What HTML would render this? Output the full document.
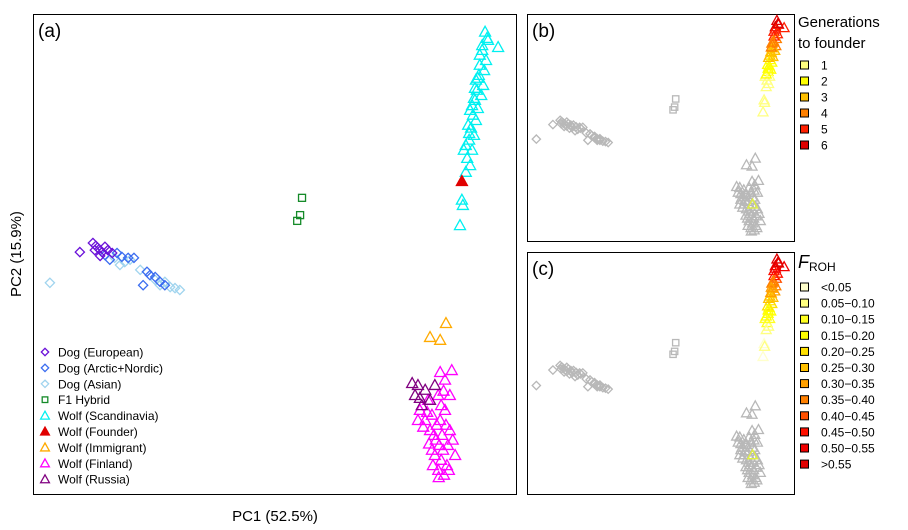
<!DOCTYPE html>
<html><head><meta charset="utf-8"><style>
html,body{margin:0;padding:0;background:#fff;}
svg{display:block;font-family:"Liberation Sans",Arial,sans-serif;}
</style></head><body>
<svg id="chart" width="908" height="530" viewBox="0 0 908 530" xmlns="http://www.w3.org/2000/svg">
<rect x="0" y="0" width="908" height="530" fill="#fff"/>
<rect x="33.5" y="14.5" width="483" height="480" fill="none" stroke="#000"/>
<rect x="527.5" y="14.5" width="267" height="227" fill="none" stroke="#000"/>
<rect x="527.5" y="252.5" width="267" height="242" fill="none" stroke="#000"/>
<text x="38" y="37" font-size="19">(a)</text>
<text x="532" y="37" font-size="19">(b)</text>
<text x="532" y="275" font-size="19">(c)</text>
<text x="275" y="521" font-size="15" text-anchor="middle">PC1 (52.5%)</text>
<text x="21" y="254" font-size="15" text-anchor="middle" transform="rotate(-90 21 254)">PC2 (15.9%)</text>
<text x="798" y="27" font-size="15">Generations</text>
<text x="798" y="48" font-size="15">to founder</text>
<text x="798" y="268" font-size="18" font-style="italic">F<tspan font-size="12" font-style="normal" dy="3">ROH</tspan></text>
<g id="marks"></g>
</svg>
<script>
const groupNames = ["Dog (European)","Dog (Arctic+Nordic)","Dog (Asian)","F1 Hybrid","Wolf (Scandinavia)","Wolf (Founder)","Wolf (Immigrant)","Wolf (Finland)","Wolf (Russia)"];
const euroX=[9.7,12.4,13.0,13.7,14.3,14.9,15.5,13.9,16.4,12.8];
const euroY=[50.4,52.3,51.7,51.0,50.4,51.5,50.8,49.6,50.2,50.8];
const arcX=[17.4,18.4,19.7,20.9,23.6,24.2,25.3,26.3,22.8,27.3,14.9,15.9];
const arcY=[50.2,49.4,49.2,49.2,46.3,45.6,45.2,44.2,43.5,43.5,49.8,48.8];
const asiaX=[3.5,18.0,19.0,16.9,25.3,26.3,28.4,29.4,30.4,27.3,20.1,22.2];
const asiaY=[44.0,47.7,48.3,49.2,44.6,43.5,43.1,42.9,42.5,44.2,48.8,46.7];
const f1X=[55.7,55.3,54.7];
const f1Y=[61.7,58.1,56.9];
const scanX=[93.6,94.2,93.0,96.3,92.5,93.8,93.4,92.3,93.2,91.9,92.8,91.5,92.1,91.1,91.7,90.7,91.3,90.3,90.9,89.9,90.5,89.2,89.6,88.8,88.4,89.0,92.5,91.7,90.9,90.1,89.6,90.5,91.3,92.1,93.0,94.0,91.5,90.3];
const scanY=[96.3,94.6,93.5,93.1,91.5,90.4,88.3,87.3,85.2,84.2,83.1,82.1,80.4,79.0,77.9,76.3,74.8,73.8,71.7,70.0,68.5,71.7,67.1,61.3,56.0,60.2,89.4,86.3,81.0,76.9,72.7,80.0,82.5,86.7,92.5,95.0,84.6,75.2];
const scanGen=[6,6,6,5,5,5,4,4,4,3,3,3,3,2,2,2,2,2,1,1,1,1,1,1,1,1,5,4,3,2,2,3,3,4,5,6,4,2];
const scanFroh=[11,11,10,10,9,9,8,7,7,6,6,5,5,4,4,3,3,3,2,2,1,2,1,0,0,1,9,7,5,4,3,5,6,7,10,11,6,3];
const founderX=[88.8], founderY=[65.2];
const immX=[85.5,82.2,84.3], immY=[35.6,32.7,32.1];
const finX=[80.1,81.2,82.6,84.3,85.3,86.3,83.9,82.2,83.4,84.7,85.9,83.2,84.5,85.7,83.9,85.1,82.6,86.3,87.4,81.8,85.3,86.7,84.3,79.7,82.8,86.1,83.6,84.9,84.1,85.5,83.0,84.5,81.6,86.9,80.8,82.0,84.0,85.0];
const finY=[17.5,15.4,16.5,15.4,17.5,20.6,20.6,13.3,11.3,12.3,10.2,8.1,7.1,6.0,5.0,4.0,9.2,13.3,8.1,19.6,23.8,25.8,25.4,15.4,6.0,5.0,14.4,9.2,10.2,14.4,12.3,18.5,17.1,11.3,14.0,10.5,3.5,21.5];
const rusX=[78.5,79.7,81.2,79.1,82.2,80.5,83.2,80.1];
const rusY=[23.1,22.7,21.7,20.6,19.6,18.5,22.7,20.0];
const genLabels=["1","2","3","4","5","6"];
const genColors=["#ffff80","#ffff00","#ffc000","#ff8000","#ff2000","#e00000"];
const frohLabels=["<0.05","0.05\u22120.10","0.10\u22120.15","0.15\u22120.20","0.20\u22120.25","0.25\u22120.30","0.30\u22120.35","0.35\u22120.40","0.40\u22120.45","0.45\u22120.50","0.50\u22120.55",">0.55"];
const frohColors=["#ffffcc","#ffff80","#ffff20","#ffff00","#ffe000","#ffc000","#ffa000","#ff8000","#ff5000","#ff1000","#f00000","#e00000"];

const NS="http://www.w3.org/2000/svg";
const G=document.getElementById('marks');
const panels={a:{x0:33,y0:14,w:483,h:480,s:1},b:{x0:527,y0:12,w:267,h:227,s:0.9},c:{x0:527,y0:250,w:267,h:242,s:0.9}};
function sx(p,v){return p.x0+v/100*p.w;}
function sy(p,v){return p.y0+p.h-v/100*p.h;}
function shape(kind,cx,cy,s,stroke,fill){
  let e;
  if(kind==='dia'){const r=4.6*s;e=document.createElementNS(NS,'polygon');e.setAttribute('points',`${cx},${cy-r} ${cx+r},${cy} ${cx},${cy+r} ${cx-r},${cy}`);}
  else if(kind==='sq'){const r=3.5*s;e=document.createElementNS(NS,'rect');e.setAttribute('x',cx-r);e.setAttribute('y',cy-r);e.setAttribute('width',2*r);e.setAttribute('height',2*r);}
  else {const r=5.5*s;e=document.createElementNS(NS,'polygon');e.setAttribute('points',`${cx},${cy-r} ${cx+r},${cy+r*0.8} ${cx-r},${cy+r*0.8}`);}
  e.setAttribute('stroke',stroke);e.setAttribute('fill',fill||'none');e.setAttribute('stroke-width',1.3);
  return e;
}
function drawSeries(p,xs,ys,kind,colorFn,name,fill){
  for(let i=0;i<xs.length;i++){
    const c=colorFn(i);
    const e=shape(kind,sx(p,xs[i]),sy(p,ys[i]),p.s,c,fill?c:null);
    
    
    G.appendChild(e);
  }
}
const A=panels.a;
drawSeries(A,asiaX,asiaY,'dia',()=>'#a0d4ee','point-dog-asian');
drawSeries(A,arcX,arcY,'dia',()=>'#3a6cf0','point-dog-arctic');
drawSeries(A,euroX,euroY,'dia',()=>'#6a10d8','point-dog-european');
drawSeries(A,f1X,f1Y,'sq',()=>'#148a28','point-f1-hybrid');
drawSeries(A,finX,finY,'tri',()=>'#ff00ff','point-wolf-finland');
drawSeries(A,rusX,rusY,'tri',()=>'#800080','point-wolf-russia');
drawSeries(A,immX,immY,'tri',()=>'#ffaa00','point-wolf-immigrant');
drawSeries(A,scanX,scanY,'tri',()=>'#00f0f0','point-wolf-scandinavia');
drawSeries(A,founderX,founderY,'tri',()=>'#e00000','point-wolf-founder',true);
['b','c'].forEach(k=>{
  const P=panels[k];const gr='#b8b8b8';
  drawSeries(P,asiaX,asiaY,'dia',()=>gr,'point-dog-grey');
  drawSeries(P,arcX,arcY,'dia',()=>gr,'point-dog-grey');
  drawSeries(P,euroX,euroY,'dia',()=>gr,'point-dog-grey');
  drawSeries(P,f1X,f1Y,'sq',()=>gr,'point-f1-grey');
  drawSeries(P,finX,finY,'tri',()=>gr,'point-wolf-east-grey');
  drawSeries(P,rusX,rusY,'tri',()=>gr,'point-wolf-east-grey');
  drawSeries(P,immX,immY,'tri',()=>gr,'point-wolf-immigrant-grey');
  drawSeries(P,[84.5],[15.4],'tri',()=>'#e0f040','point-wolf-immigrant-descendant');
  if(k==='b') drawSeries(P,scanX,scanY,'tri',i=>genColors[scanGen[i]-1],'point-wolf-generation');
  else drawSeries(P,scanX,scanY,'tri',i=>frohColors[scanFroh[i]],'point-wolf-froh');
});
const legCols=['#6a10d8','#3a6cf0','#a0d4ee','#148a28','#00f0f0','#e00000','#ffaa00','#ff00ff','#800080'];
const legKinds=['dia','dia','dia','sq','tri','tri','tri','tri','tri'];
groupNames.forEach((n,i)=>{
  const y=352+i*15.9;
  const e=shape(legKinds[i],45,y,0.8,legCols[i],i===5?legCols[i]:null);
  
  
  G.appendChild(e);
  const t=document.createElementNS(NS,'text');
  t.setAttribute('x',58);t.setAttribute('y',y+4.5);t.setAttribute('font-size',12);t.textContent=n;
  
  
  G.appendChild(t);
});
function sqLegend(labels,cols,y0,dy,name){
  labels.forEach((l,i)=>{
    const y=y0+i*dy;
    const r=document.createElementNS(NS,'rect');
    r.setAttribute('x',800.5);r.setAttribute('y',y-4);r.setAttribute('width',8);r.setAttribute('height',8);
    r.setAttribute('fill',cols[i]);r.setAttribute('stroke','#000');r.setAttribute('stroke-width',1);
    
    
    G.appendChild(r);
    const t=document.createElementNS(NS,'text');
    t.setAttribute('x',821);t.setAttribute('y',y+4.5);t.setAttribute('font-size',12);t.textContent=l;
    
    
    G.appendChild(t);
  });
}
sqLegend(genLabels,genColors,65,16,'generation-legend');
sqLegend(frohLabels,frohColors,287,16.1,'froh-legend');
</script>
</body></html>
